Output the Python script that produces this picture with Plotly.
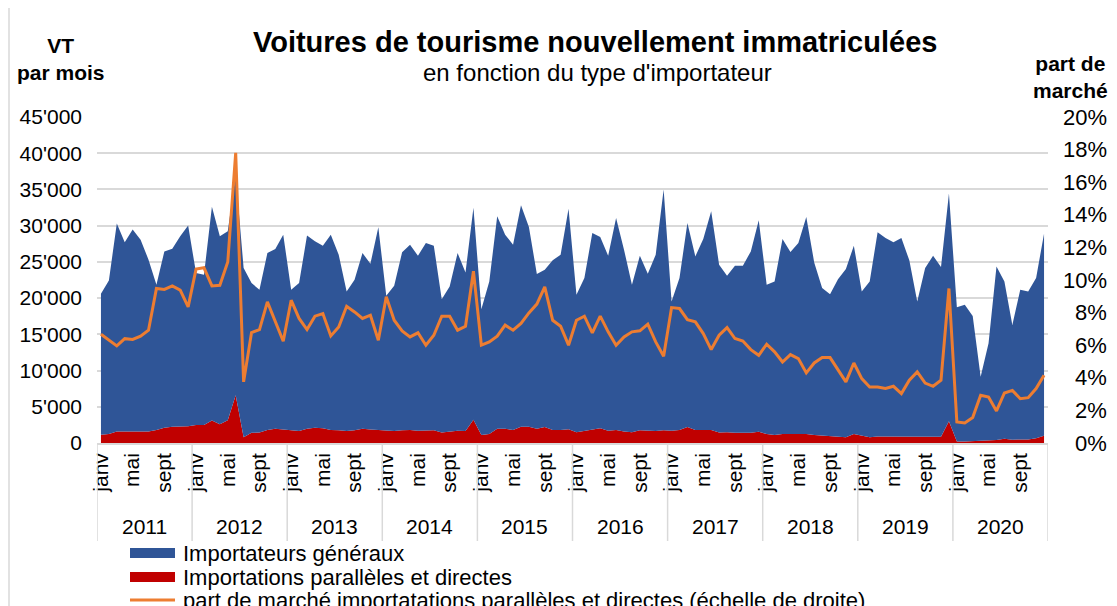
import plotly.graph_objects as go

years = [2011, 2012, 2013, 2014, 2015, 2016, 2017, 2018, 2019, 2020]
month_ticks = ["janv", "mai", "sept"]
month_tick_idx = [0, 4, 8]

general = [
    19440, 21190, 28690, 26100, 27860, 26470, 23700, 20040, 24350, 24570, 26280, 27710,
    20950, 20720, 29500, 25930, 26080, 30400, 23350, 20670, 19700, 24420, 24830, 26910,
    19350, 20420, 26680, 25740, 25190, 26960, 24250, 19270, 20780, 24270, 22900, 27980,
    18510, 20050, 24570, 25580, 24160, 25910, 25490, 18400, 20060, 24520, 21900, 29260,
    17370, 21050, 29350, 26810, 25580, 30580, 27580, 21370, 21720, 23410, 24200, 30420,
    18950, 21060, 27040, 26390, 24160, 29270, 25080, 20340, 24110, 21710, 24350, 33250,
    17830, 20960, 28180, 23960, 26360, 30200, 23160, 21590, 23070, 23070, 25050, 29200,
    20590, 21200, 26910, 25110, 26360, 29960, 23830, 20330, 19650, 21720, 23210, 25990,
    19870, 21500, 28190, 27400, 26800, 27400, 24360, 18680, 23300, 25010, 23440, 31440,
    18550, 18870, 17290, 8890, 13430, 23960, 21720, 15850, 20650, 20420, 22110, 27900]

parallel = [
    1150, 1250, 1600, 1600, 1600, 1600, 1600, 1800, 2100, 2250, 2250, 2300,
    2500, 2500, 3100, 2600, 3150, 6600, 800, 1400, 1450, 1800, 1950, 1850,
    1800, 1650, 1950, 2100, 2050, 1800, 1750, 1650, 1750, 1950, 1850, 1800,
    1800, 1650, 1750, 1800, 1700, 1700, 1750, 1450, 1550, 1700, 1650, 3200,
    1100, 1250, 1950, 1950, 1800, 2250, 2250, 1950, 2200, 1800, 1800, 1900,
    1500, 1700, 1950, 2050, 1700, 1800, 1600, 1500, 1750, 1650, 1650, 1750,
    1700, 1800, 2200, 1800, 1800, 1800, 1450, 1500, 1400, 1400, 1400, 1550,
    1250, 1100, 1250, 1250, 1250, 1250, 1100, 1050, 900, 900, 800, 1250,
    1050, 800, 900, 900, 900, 900, 850, 850, 850, 850, 850, 3000,
    200, 200, 250, 250, 330, 420, 580, 450, 500, 500, 650, 1000]

share = [
    6.67, 6.30, 5.96, 6.40, 6.35, 6.55, 6.92, 9.48, 9.42, 9.64, 9.38, 8.35,
    10.67, 10.75, 9.64, 9.68, 11.10, 17.80, 3.75, 6.78, 6.96, 8.66, 7.43, 6.24,
    8.76, 7.64, 6.96, 7.78, 7.94, 6.57, 7.12, 8.39, 8.04, 7.64, 7.84, 6.30,
    8.97, 7.53, 6.88, 6.51, 6.76, 6.00, 6.61, 7.78, 7.78, 6.92, 7.16, 10.54,
    6.00, 6.20, 6.55, 7.23, 6.92, 7.33, 7.98, 8.52, 9.58, 7.53, 7.16, 6.00,
    7.53, 7.78, 6.76, 7.78, 6.82, 6.00, 6.51, 6.82, 6.88, 7.29, 6.20, 5.32,
    8.31, 8.25, 7.57, 7.43, 6.71, 5.73, 6.61, 7.08, 6.41, 6.26, 5.73, 5.38,
    6.06, 5.59, 4.97, 5.42, 5.18, 4.30, 4.91, 5.24, 5.24, 4.46, 3.75, 4.91,
    3.95, 3.44, 3.44, 3.34, 3.48, 3.03, 3.85, 4.36, 3.68, 3.48, 3.85, 9.48,
    1.29, 1.23, 1.56, 2.93, 2.82, 1.97, 3.07, 3.23, 2.72, 2.78, 3.34, 4.16]

left_tickvals = [0, 5000, 10000, 15000, 20000, 25000, 30000, 35000, 40000, 45000]
left_ticktext = ["0", "5'000", "10'000", "15'000", "20'000", "25'000",
                 "30'000", "35'000", "40'000", "45'000"]
right_tickvals = [0, 2, 4, 6, 8, 10, 12, 14, 16, 18, 20]
right_ticktext = ["0%", "2%", "4%", "6%", "8%", "10%", "12%", "14%", "16%", "18%", "20%"]

names = ["Importateurs généraux", "Importations parallèles et directes",
         "part de marché importatations parallèles et directes (échelle de droite)"]

BLUE = "#2F5597"
RED = "#C00000"
ORANGE = "#ED7D31"
GRID = "#D9D9D9"
FONT = "Liberation Sans, Arial, sans-serif"

# page coordinates (figure is placed at an 8px body margin)
OFF = 8
PAGE_W, PAGE_H = 1117, 606
W, H = PAGE_W - OFF, PAGE_H - OFF
L, R, T, B = 97, 1048, 117, 443


def px(x):
    return (x - L) / (R - L)


def py(y):
    return (B - y) / (B - T)


n = len(general)
x = list(range(n))

fig = go.Figure()
fig.add_trace(go.Scatter(x=x, y=parallel, name=names[1], stackgroup="s",
                         mode="lines", line=dict(width=0, color=RED),
                         fillcolor=RED, showlegend=False))
fig.add_trace(go.Scatter(x=x, y=general, name=names[0], stackgroup="s",
                         mode="lines", line=dict(width=0, color=BLUE),
                         fillcolor=BLUE, showlegend=False))
fig.add_trace(go.Scatter(x=x, y=share, name=names[2], yaxis="y2",
                         mode="lines", line=dict(width=3, color=ORANGE),
                         showlegend=False))

tickvals = []
ticktext = []
for yi, _ in enumerate(years):
    for k, lab in zip(month_tick_idx, month_ticks):
        tickvals.append(yi * 12 + k)
        ticktext.append(lab)

fig.update_layout(
    width=W, height=H,
    margin=dict(l=L - OFF, r=PAGE_W - R, t=T - OFF, b=PAGE_H - B, autoexpand=False),
    paper_bgcolor="white", plot_bgcolor="white",
    font=dict(family=FONT, size=21, color="#000000"),
    xaxis=dict(range=[-0.5, n - 0.5], tickvals=tickvals, ticktext=ticktext,
               tickangle=-90, showgrid=False, zeroline=False,
               showline=True, linecolor=GRID, linewidth=1.5,
               tickfont=dict(size=21)),
    yaxis=dict(range=[0, 45000], tickvals=left_tickvals, ticktext=left_ticktext,
               showgrid=True, gridcolor=GRID, gridwidth=1.5, zeroline=False,
               ticklabelstandoff=14, tickfont=dict(size=21)),
    yaxis2=dict(range=[0, 20], overlaying="y", side="right",
                tickvals=right_tickvals, showticklabels=False,
                showgrid=False, zeroline=False),
)

annotations = []
# right axis labels (right-aligned)
for v, t in zip(right_tickvals, right_ticktext):
    annotations.append(dict(x=px(1109), y=v, xref="paper", yref="y2", text=t,
                            showarrow=False, xanchor="right", yanchor="middle",
                            font=dict(size=22)))
# year labels and dividers
shapes = []
for yi, yr in enumerate(years):
    annotations.append(dict(x=yi * 12 + 5.5, y=py(526), xref="x", yref="paper",
                            text=str(yr), showarrow=False, xanchor="center",
                            yanchor="middle", font=dict(size=21)))
for yi in range(len(years) + 1):
    shapes.append(dict(type="line", xref="x", yref="paper",
                       x0=yi * 12 - 0.5, x1=yi * 12 - 0.5, y0=0, y1=py(541),
                       line=dict(color=GRID, width=1.5)))

# titles
annotations.append(dict(x=px(595), y=py(42), xref="paper", yref="paper",
                        text="<b>Voitures de tourisme nouvellement immatriculées</b>",
                        showarrow=False, xanchor="center", yanchor="middle",
                        font=dict(size=29)))
annotations.append(dict(x=px(597), y=py(73), xref="paper", yref="paper",
                        text="en fonction du type d'importateur",
                        showarrow=False, xanchor="center", yanchor="middle",
                        font=dict(size=24)))
annotations.append(dict(x=px(61), y=py(59), xref="paper", yref="paper",
                        text="<b>VT</b><br><b>par mois</b>",
                        showarrow=False, xanchor="center", yanchor="middle",
                        align="center", font=dict(size=21)))
annotations.append(dict(x=px(1070), y=py(77), xref="paper", yref="paper",
                        text="<b>part de</b><br><b>marché</b>",
                        showarrow=False, xanchor="center", yanchor="middle",
                        align="center", font=dict(size=21)))

# legend (manual)
leg_y = [553, 577, 600]
shapes.append(dict(type="rect", xref="paper", yref="paper",
                   x0=px(130), x1=px(175), y0=py(leg_y[0] - 5), y1=py(leg_y[0] + 5),
                   fillcolor=BLUE, line=dict(width=0)))
shapes.append(dict(type="rect", xref="paper", yref="paper",
                   x0=px(130), x1=px(175), y0=py(leg_y[1] - 5), y1=py(leg_y[1] + 5),
                   fillcolor=RED, line=dict(width=0)))
shapes.append(dict(type="line", xref="paper", yref="paper",
                   x0=px(130), x1=px(175), y0=py(leg_y[2]), y1=py(leg_y[2]),
                   line=dict(color=ORANGE, width=3)))
for yy, nm in zip(leg_y, names):
    annotations.append(dict(x=px(181), y=py(yy), xref="paper", yref="paper",
                            text=nm, showarrow=False, xanchor="left",
                            yanchor="middle", font=dict(size=22)))

# outer frame (left/right borders)
for xx in (9, 1110):
    shapes.append(dict(type="line", xref="paper", yref="paper",
                       x0=px(xx), x1=px(xx), y0=py(-5), y1=py(615),
                       line=dict(color=GRID, width=1.5)))

fig.update_layout(annotations=annotations, shapes=shapes)
fig.write_html("out.html")
